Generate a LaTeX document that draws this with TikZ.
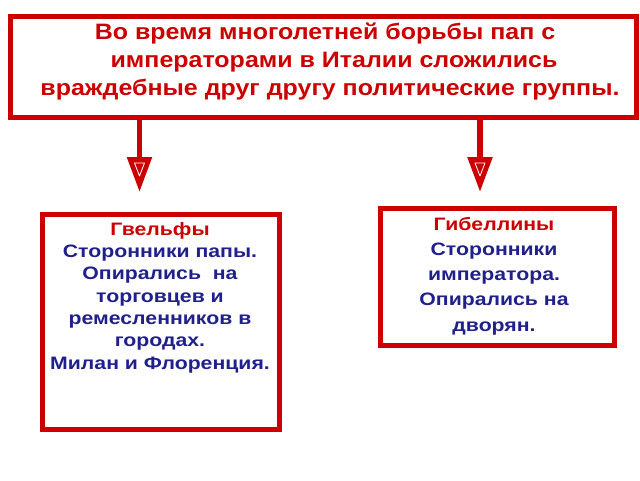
\documentclass[tikz,border=0pt]{standalone}
\usepackage{fontspec}
\setmainfont{Liberation Sans}
\newfontfamily\topfont[FakeStretch=1.12]{Liberation Sans}
\newfontfamily\bodyfont[FakeStretch=1.18]{Liberation Sans}
\usetikzlibrary{arrows.meta}
\definecolor{myred}{RGB}{204,0,0}
\definecolor{myblue}{RGB}{32,32,140}
\begin{document}
\begin{tikzpicture}[x=1pt,y=-1pt,
  framebox/.style={draw=myred,line width=5pt,inner sep=0pt,fill=white},
  conn/.style={draw=myred,line width=5.5pt,-{Triangle[width=24pt,length=35pt]},shorten >=0pt},
  toptext/.style={anchor=base,inner sep=0pt,text=myred,font=\topfont\fontsize{22.3}{26}\selectfont\bfseries},
  bodytext/.style={anchor=base,inner sep=0pt,text=myblue,font=\bodyfont\fontsize{18}{22}\selectfont\bfseries},
  headtext/.style={bodytext,text=myred}]
\useasboundingbox (0,0) rectangle (640,480);
\fill[white] (0,0) rectangle (640,480);
% boxes
\node[framebox,minimum width=626pt,minimum height=101pt] (top) at (323,66.5) {};
\node[framebox,minimum width=236.5pt,minimum height=215.5pt] (left) at (160.75,321.75) {};
\node[framebox,minimum width=234pt,minimum height=137pt] (right) at (497,277) {};
% arrow ends
\coordinate (lend) at (139.5,192);
\coordinate (rend) at (480,192);
\draw[conn] (top.south -| lend) -- (lend);
\draw[conn] (top.south -| rend) -- (rend);
% small white inner triangles on arrow heads
\draw[white,line width=0.8pt,line join=round] (134.5,163) -- (144.5,163) -- (139.5,176) -- cycle;
\draw[white,line width=0.8pt,line join=round] (475,163) -- (485,163) -- (480,176) -- cycle;
% top text
\node[toptext] (t1) at (325,39.3) {Во время многолетней борьбы пап с};
\node[toptext] (t2) at (334,67) {императорами в Италии сложились};
\node[toptext] (t3) at (330,95) {враждебные друг другу политические группы.};
% left text
\node[headtext] (l1) at (160,235) {Гвельфы};
\foreach \i/\txt in {2/{Сторонники папы.},3/{Опирались~ на},4/{торговцев и},5/{ремесленников в},6/{городах.},7/{Милан и Флоренция.}}
  \node[bodytext] (l\i) at (160,{235+22.35*(\i-1)}) {\txt};
% right text
\node[headtext] (r1) at (494,230) {Гибеллины};
\foreach \i/\txt in {2/{Сторонники},3/{императора.},4/{Опирались на},5/{дворян.}}
  \node[bodytext] (r\i) at (494,{230+25.3*(\i-1)}) {\txt};
\end{tikzpicture}
\end{document}
